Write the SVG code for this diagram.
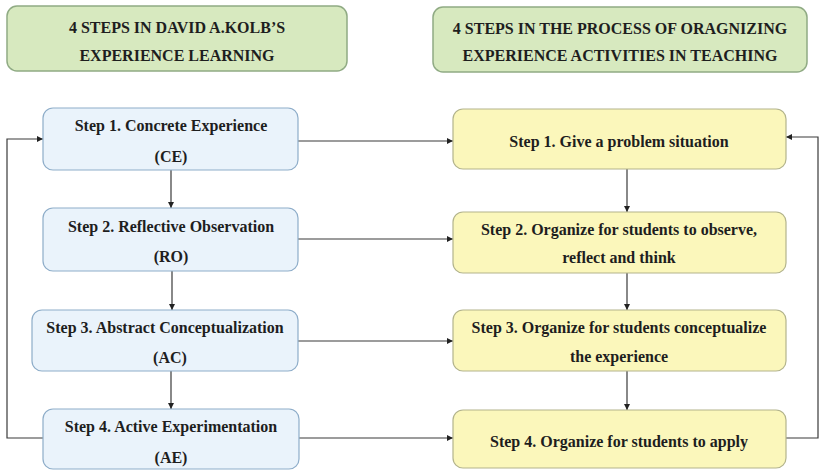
<svg xmlns="http://www.w3.org/2000/svg" width="820" height="473" viewBox="0 0 820 473">
  <defs>
    <marker id="arrow" viewBox="0 0 10 10" refX="10" refY="5" markerWidth="6" markerHeight="6" orient="auto" markerUnits="userSpaceOnUse">
      <path d="M0,0 L10,5 L0,10 Z" fill="#222"/>
    </marker>
  </defs>
  <style>
    text { font-family: "Liberation Serif", "Times New Roman", serif; font-weight: bold; font-size: 16px; fill: #1e1e1e; text-anchor: middle; }
    .head { fill: #d7e9bf; stroke: #90ab84; stroke-width: 1.5; }
    .kolb { fill: #eaf3fb; stroke: #8eadc9; stroke-width: 1.2; }
    .teach { fill: #fbf7bb; stroke: #b3b48c; stroke-width: 1.2; }
    .link { fill: none; stroke: #3a3a3a; stroke-width: 1.2; }
  </style>
  <rect width="820" height="473" fill="#ffffff"/>

  <!-- column headings -->
  <g id="heading-kolb">
    <rect class="head" x="7" y="6" width="340" height="65" rx="10"/>
    <text x="177" y="33">4 STEPS IN DAVID A.KOLB’S</text>
    <text x="177" y="61">EXPERIENCE LEARNING</text>
  </g>
  <g id="heading-teaching">
    <rect class="head" x="433" y="7" width="374" height="65" rx="10"/>
    <text x="620" y="34">4 STEPS IN THE PROCESS OF ORAGNIZING</text>
    <text x="620" y="61">EXPERIENCE ACTIVITIES IN TEACHING</text>
  </g>

  <!-- connectors -->
  <g id="connectors">
    <!-- Kolb cycle, top to bottom -->
    <line class="link" x1="171" y1="170" x2="171" y2="208" marker-end="url(#arrow)"/>
    <line class="link" x1="172" y1="271" x2="172" y2="310" marker-end="url(#arrow)"/>
    <line class="link" x1="171" y1="371" x2="171" y2="409" marker-end="url(#arrow)"/>
    <!-- teaching steps, top to bottom -->
    <line class="link" x1="627" y1="169" x2="627" y2="212" marker-end="url(#arrow)"/>
    <line class="link" x1="627" y1="273" x2="627" y2="310" marker-end="url(#arrow)"/>
    <line class="link" x1="627" y1="371" x2="627" y2="410" marker-end="url(#arrow)"/>
    <!-- Kolb step to teaching step -->
    <line class="link" x1="298" y1="141" x2="453" y2="141" marker-end="url(#arrow)"/>
    <line class="link" x1="298" y1="239" x2="453" y2="239" marker-end="url(#arrow)"/>
    <line class="link" x1="298" y1="341" x2="453" y2="341" marker-end="url(#arrow)"/>
    <line class="link" x1="299" y1="438" x2="453" y2="438" marker-end="url(#arrow)"/>
    <!-- feedback loops -->
    <polyline class="link" points="43,438 7,438 7,139 43,139" marker-end="url(#arrow)"/>
    <polyline class="link" points="786,438 818,438 818,137 786,137" marker-end="url(#arrow)"/>
  </g>

  <!-- Kolb experiential learning steps -->
  <g id="kolb-ce">
    <rect class="kolb" x="43" y="108" width="255" height="62" rx="10"/>
    <text x="171" y="131">Step 1. Concrete Experience</text>
    <text x="171" y="162">(CE)</text>
  </g>
  <g id="kolb-ro">
    <rect class="kolb" x="43" y="208" width="255" height="63" rx="10"/>
    <text x="171" y="232">Step 2. Reflective Observation</text>
    <text x="171" y="262">(RO)</text>
  </g>
  <g id="kolb-ac">
    <rect class="kolb" x="32" y="310" width="266" height="61" rx="10"/>
    <text x="165" y="333">Step 3. Abstract Conceptualization</text>
    <text x="170" y="363">(AC)</text>
  </g>
  <g id="kolb-ae">
    <rect class="kolb" x="43" y="409" width="256" height="60" rx="10"/>
    <text x="171" y="432">Step 4. Active Experimentation</text>
    <text x="171" y="463">(AE)</text>
  </g>

  <!-- teaching activity steps -->
  <g id="teach-1">
    <rect class="teach" x="453" y="109" width="333" height="60" rx="10"/>
    <text x="619" y="147">Step 1. Give a problem situation</text>
  </g>
  <g id="teach-2">
    <rect class="teach" x="453" y="212" width="333" height="61" rx="10"/>
    <text x="619" y="235">Step 2. Organize for students to observe,</text>
    <text x="619" y="263">reflect and think</text>
  </g>
  <g id="teach-3">
    <rect class="teach" x="453" y="310" width="333" height="61" rx="10"/>
    <text x="619" y="333">Step 3. Organize for students conceptualize</text>
    <text x="619" y="362">the experience</text>
  </g>
  <g id="teach-4">
    <rect class="teach" x="453" y="410" width="333" height="58" rx="10"/>
    <text x="619" y="447">Step 4. Organize for students to apply</text>
  </g>
</svg>
